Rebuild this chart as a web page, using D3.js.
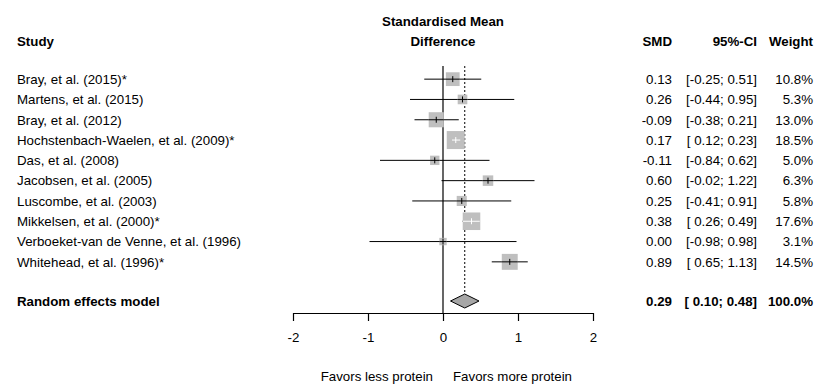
<!DOCTYPE html>
<html>
<head>
<meta charset="utf-8">
<script src="https://cdn.jsdelivr.net/npm/d3@7"></script>
<style>
  body { margin: 0; background: #fff; }
  svg text { font-family: "Liberation Sans", Arial, sans-serif; font-size: 13.3px; fill: #000; }
  .bold { font-weight: bold; }
</style>
</head>
<body>
<div id="chart"></div>
<script>
const studies = [
  'Bray, et al. (2015)*',
  'Martens, et al. (2015)',
  'Bray, et al. (2012)',
  'Hochstenbach-Waelen, et al. (2009)*',
  'Das, et al. (2008)',
  'Jacobsen, et al. (2005)',
  'Luscombe, et al. (2003)',
  'Mikkelsen, et al. (2000)*',
  'Verboeket-van de Venne, et al. (1996)',
  'Whitehead, et al. (1996)*'
];
const smd = [0.13, 0.26, -0.09, 0.17, -0.11, 0.60, 0.25, 0.38, 0.00, 0.89];
const lower = [-0.25, -0.44, -0.38, 0.12, -0.84, -0.02, -0.41, 0.26, -0.98, 0.65];
const upper = [0.51, 0.95, 0.21, 0.23, 0.62, 1.22, 0.91, 0.49, 0.98, 1.13];
const weight = [10.8, 5.3, 13.0, 18.5, 5.0, 6.3, 5.8, 17.6, 3.1, 14.5];
const pooled = { label: 'Random effects model', smd: 0.29, lower: 0.10, upper: 0.48, weight: 100.0 };
const xTicks = [-2, -1, 0, 1, 2];
const favorLabels = ['Favors less protein', 'Favors more protein'];

const width = 819, height = 385;

const svg = d3.select('#chart')
  .append('svg')
  .attr('width', width)
  .attr('height', height);

const data = studies.map((s, i) => ({
  study: s, smd: smd[i], lower: lower[i], upper: upper[i], weight: weight[i]
}));

// scales
const x = d3.scaleLinear().domain([-2, 2]).range([293, 593]);
const y = d3.scaleBand()
  .domain(d3.range(studies.length))
  .range([69, 272]);
const rowY = i => y(i) + y.bandwidth() / 2;
const pooledY = 301;
const boxSize = d3.scaleSqrt().domain([0, d3.max(weight)]).range([0, 18]);

// plain hyphen for negatives, like R prints them
const fmt = v => d3.format('.2f')(v).replace('\u2212', '-');
const ciText = (lo, hi) => `[${lo < 0 ? '' : ' '}${fmt(lo)}; ${fmt(hi)}]`;
const baseline = 4.8;

// headers
svg.append('text').attr('class', 'bold').attr('x', 17).attr('y', 46).text('Study');
svg.append('text').attr('class', 'bold').attr('x', x(0)).attr('y', 26)
  .attr('text-anchor', 'middle').text('Standardised Mean');
svg.append('text').attr('class', 'bold').attr('x', x(0)).attr('y', 46)
  .attr('text-anchor', 'middle').text('Difference');
svg.append('text').attr('class', 'bold').attr('x', 672).attr('y', 46)
  .attr('text-anchor', 'end').text('SMD');
svg.append('text').attr('class', 'bold').attr('x', 757).attr('y', 46)
  .attr('text-anchor', 'end').text('95%-CI');
svg.append('text').attr('class', 'bold').attr('x', 813).attr('y', 46)
  .attr('text-anchor', 'end').text('Weight');

// reference lines
svg.append('line')
  .attr('x1', x(0)).attr('x2', x(0))
  .attr('y1', 66).attr('y2', 313)
  .attr('stroke', '#000').attr('stroke-width', 1.2);

svg.append('line')
  .attr('x1', x(pooled.smd)).attr('x2', x(pooled.smd))
  .attr('y1', 66).attr('y2', pooledY - 7)
  .attr('stroke', '#000').attr('stroke-width', 1)
  .attr('stroke-dasharray', '2,2');

// study rows
const rows = svg.append('g').attr('class', 'rows')
  .selectAll('g')
  .data(data)
  .enter()
  .append('g')
  .attr('transform', (d, i) => `translate(0, ${rowY(i)})`);

rows.append('text').attr('x', 17).attr('y', baseline).text(d => d.study);

rows.append('line')
  .attr('x1', d => x(d.lower)).attr('x2', d => x(d.upper))
  .attr('y1', 0).attr('y2', 0)
  .attr('stroke', '#000').attr('stroke-width', 1);

rows.append('rect')
  .attr('x', d => x(d.smd) - boxSize(d.weight) / 2)
  .attr('y', d => -boxSize(d.weight) / 2)
  .attr('width', d => boxSize(d.weight))
  .attr('height', d => boxSize(d.weight))
  .attr('fill', '#bfbfbf');

// CI inside the box: black, white where the whole CI sits inside the box
const inBox = d => (x(d.upper) - x(d.lower)) < boxSize(d.weight);
rows.append('line')
  .attr('x1', d => Math.max(x(d.lower), x(d.smd) - boxSize(d.weight) / 2))
  .attr('x2', d => Math.min(x(d.upper), x(d.smd) + boxSize(d.weight) / 2))
  .attr('y1', 0).attr('y2', 0)
  .attr('stroke', d => inBox(d) ? '#fff' : '#000')
  .attr('stroke-width', 1);

rows.append('line')
  .attr('x1', d => x(d.smd)).attr('x2', d => x(d.smd))
  .attr('y1', -3).attr('y2', 3)
  .attr('stroke', d => inBox(d) ? '#fff' : '#000')
  .attr('stroke-width', 1);

rows.append('text').attr('x', 672).attr('y', baseline).attr('text-anchor', 'end')
  .text(d => fmt(d.smd));
rows.append('text').attr('x', 757).attr('y', baseline).attr('text-anchor', 'end')
  .text(d => ciText(d.lower, d.upper));
rows.append('text').attr('x', 813).attr('y', baseline).attr('text-anchor', 'end')
  .text(d => d.weight.toFixed(1) + '%');

// pooled row
svg.append('text').attr('class', 'bold').attr('x', 17).attr('y', pooledY + baseline)
  .text(pooled.label);
svg.append('path')
  .attr('d', `M${x(pooled.lower)},${pooledY} L${x(pooled.smd)},${pooledY - 7} L${x(pooled.upper)},${pooledY} L${x(pooled.smd)},${pooledY + 7} Z`)
  .attr('fill', '#a6a6a6').attr('stroke', '#000').attr('stroke-width', 1);
svg.append('text').attr('class', 'bold').attr('x', 672).attr('y', pooledY + baseline)
  .attr('text-anchor', 'end').text(fmt(pooled.smd));
svg.append('text').attr('class', 'bold').attr('x', 757).attr('y', pooledY + baseline)
  .attr('text-anchor', 'end').text(ciText(pooled.lower, pooled.upper));
svg.append('text').attr('class', 'bold').attr('x', 813).attr('y', pooledY + baseline)
  .attr('text-anchor', 'end').text(pooled.weight.toFixed(1) + '%');

// x axis
const xAxis = d3.axisBottom(x)
  .tickValues(xTicks)
  .tickFormat(d => fmt(d).replace('.00', ''))
  .tickSize(8)
  .tickSizeOuter(0)
  .tickPadding(12);

const gx = svg.append('g')
  .attr('transform', `translate(0, 313)`)
  .call(xAxis);
gx.select('.domain').attr('stroke-width', 1.2);
gx.selectAll('.tick line').attr('stroke-width', 1.2);
gx.selectAll('.tick text')
  .style('font-family', '"Liberation Sans", Arial, sans-serif')
  .style('font-size', '13.3px');

// favours labels
svg.append('text').attr('x', 433).attr('y', 381).attr('text-anchor', 'end').text(favorLabels[0]);
svg.append('text').attr('x', 453).attr('y', 381).attr('text-anchor', 'start').text(favorLabels[1]);
</script>
</body>
</html>
